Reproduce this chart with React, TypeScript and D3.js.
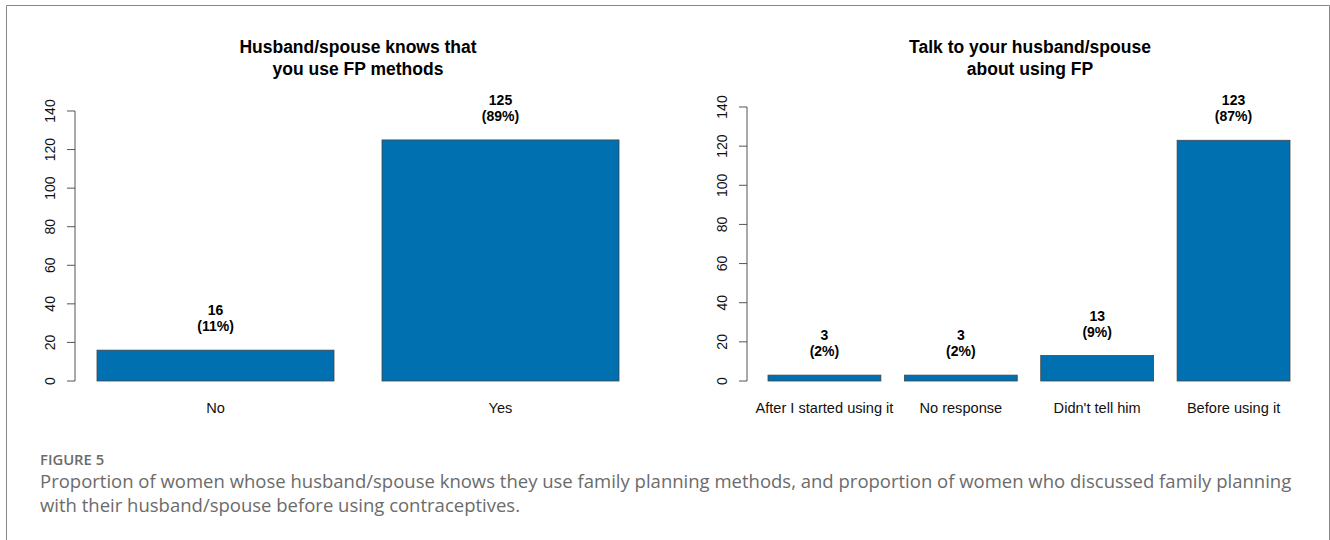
import React from "react";
import * as d3 from "d3";

const leftTitle = ["Husband/spouse knows that", "you use FP methods"];
const leftCats = ["No", "Yes"];
const leftValues = [16, 125];
const leftPct = ["11%", "89%"];

const rightTitle = ["Talk to your husband/spouse", "about using FP"];
const rightCats = ["After I started using it", "No response", "Didn't tell him", "Before using it"];
const rightValues = [3, 3, 13, 123];
const rightPct = ["2%", "2%", "9%", "87%"];

const yTicks = [0, 20, 40, 60, 80, 100, 120, 140];

const captionLabel = "FIGURE 5";
const captionLines = [
  "Proportion of women whose husband/spouse knows they use family planning methods, and proportion of women who discussed family planning",
  "with their husband/spouse before using contraceptives.",
];

const BAR = "#0070b0";
const FONT = "'Liberation Sans', Arial, sans-serif";

type PanelProps = {
  title: string[];
  cats: string[];
  values: number[];
  pct: string[];
  axisX: number;
  yTop: number;
  yBottom: number;
  barStart: number;
  barEnd: number;
  padInner: number;
  titleX: number;
};

function Panel(p: PanelProps) {
  const y = d3.scaleLinear().domain([0, 140]).range([p.yBottom, p.yTop]);
  const x = d3
    .scaleBand<string>()
    .domain(p.cats)
    .range([p.barStart, p.barEnd])
    .paddingInner(p.padInner)
    .paddingOuter(0);
  return (
    <g>
      {p.title.map((t, i) => (
        <text
          key={i}
          x={p.titleX}
          y={53 + i * 22}
          textAnchor="middle"
          fontFamily={FONT}
          fontWeight="bold"
          fontSize={17.5}
          fill="#000"
        >
          {t}
        </text>
      ))}
      <line x1={p.axisX} x2={p.axisX} y1={y(0)} y2={y(140)} stroke="#555" strokeWidth={1} />
      {yTicks.map((t) => (
        <g key={t}>
          <line x1={p.axisX - 8} x2={p.axisX} y1={y(t)} y2={y(t)} stroke="#555" strokeWidth={1} />
          <text
            transform={`translate(${p.axisX - 20},${y(t)}) rotate(-90)`}
            textAnchor="middle"
            fontFamily={FONT}
            fontSize={14}
            fill="#111"
          >
            {t}
          </text>
        </g>
      ))}
      {p.cats.map((c, i) => {
        const bx = x(c)!;
        const bw = x.bandwidth();
        const cx = bx + bw / 2;
        return (
          <g key={c}>
            <rect
              x={bx}
              y={y(p.values[i])}
              width={bw}
              height={y(0) - y(p.values[i])}
              fill={BAR}
              stroke="#444"
              strokeWidth={0.8}
            />
            <text x={cx} y={y(p.values[i]) - 35} textAnchor="middle" fontFamily={FONT} fontWeight="bold" fontSize={14} fill="#000">
              {p.values[i]}
            </text>
            <text x={cx} y={y(p.values[i]) - 19} textAnchor="middle" fontFamily={FONT} fontWeight="bold" fontSize={14} fill="#000">
              ({p.pct[i]})
            </text>
            <text x={cx} y={413} textAnchor="middle" fontFamily={FONT} fontSize={14.6} fill="#111">
              {c}
            </text>
          </g>
        );
      })}
    </g>
  );
}

export default function App() {
  return (
    <svg
      width={1330}
      height={540}
      style={{ position: "absolute", left: 0, top: 0, background: "#fff" }}
    >
      <rect x={0} y={0} width={1330} height={540} fill="#fff" />
      <path d="M6.5,540 V5.5 H1329.5 V540" fill="none" stroke="#888" strokeWidth={1} />
      <Panel
        title={leftTitle}
        cats={leftCats}
        values={leftValues}
        pct={leftPct}
        axisX={75}
        yTop={111}
        yBottom={381}
        barStart={97}
        barEnd={619}
        padInner={48 / 285}
        titleX={358}
      />
      <Panel
        title={rightTitle}
        cats={rightCats}
        values={rightValues}
        pct={rightPct}
        axisX={747}
        yTop={107}
        yBottom={381}
        barStart={768}
        barEnd={1290}
        padInner={23.5 / 136.5}
        titleX={1030}
      />
      <text x={40} y={465} fontFamily="'Open Sans', sans-serif" fontWeight={600} fontSize={14.8} fill="#6b6b6b">
        {captionLabel}
      </text>
      {captionLines.map((l, i) => (
        <text key={i} x={40} y={488 + i * 24} fontFamily="'Open Sans', sans-serif" fontSize={18.5} fill="#6b6b6b">
          {l}
        </text>
      ))}
    </svg>
  );
}
